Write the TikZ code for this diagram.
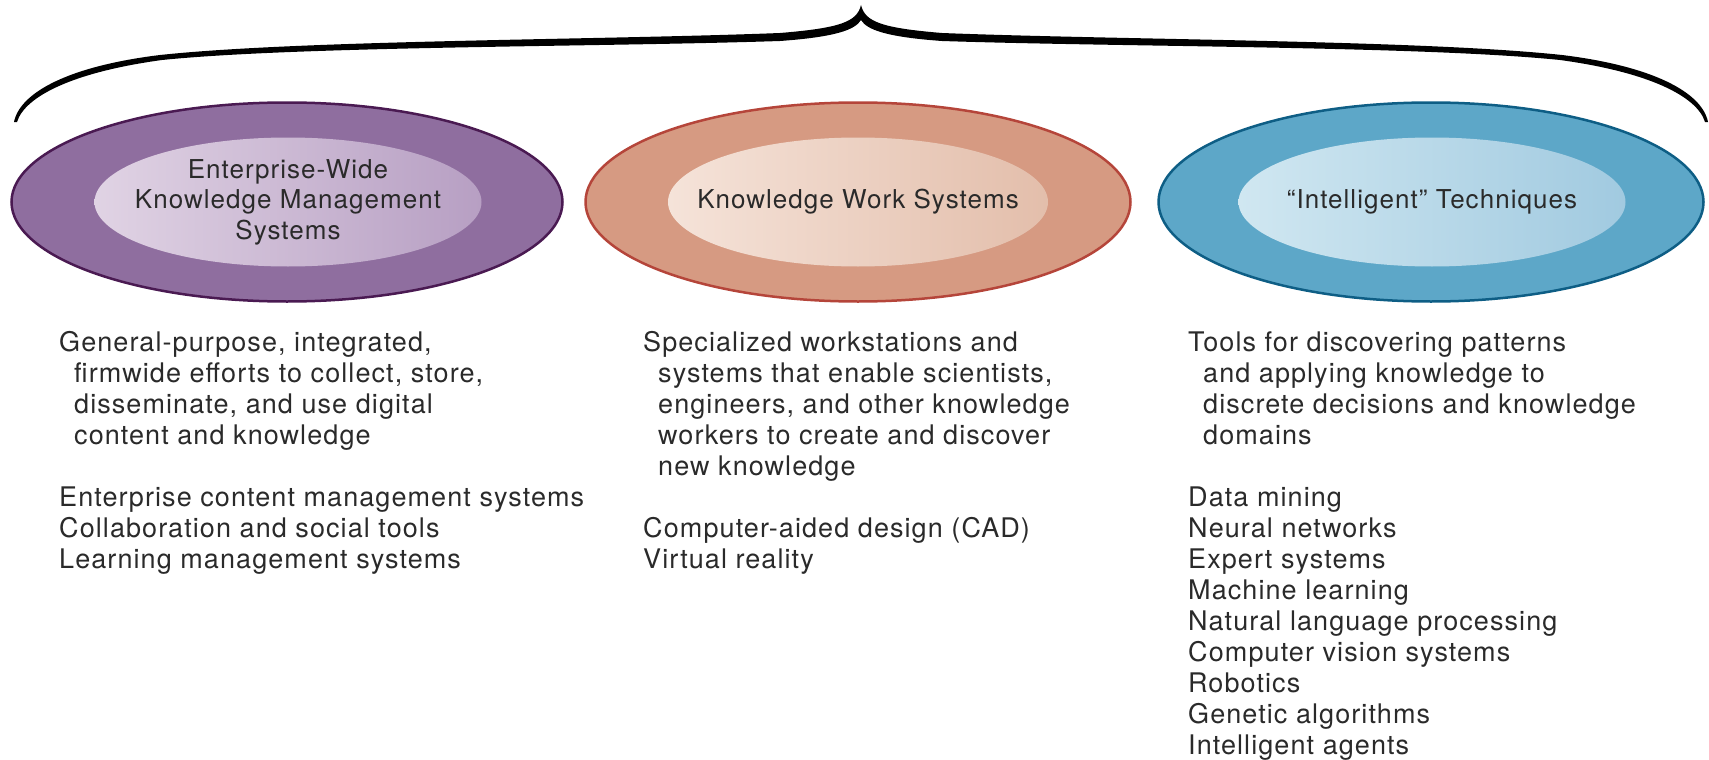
\documentclass[tikz,border=0pt]{standalone}
\usepackage{fontspec}
\setmainfont{TeX Gyre Heros}[LetterSpace=4]
\usetikzlibrary{shapes.geometric}
\definecolor{txt}{HTML}{2A2A2A}
\definecolor{purOut}{HTML}{8F6E9F}
\definecolor{purLine}{HTML}{4A1A52}
\definecolor{purInL}{HTML}{E0D3E4}
\definecolor{purInR}{HTML}{B79FC3}
\definecolor{salOut}{HTML}{D69A82}
\definecolor{salLine}{HTML}{B5453A}
\definecolor{salInL}{HTML}{F5E3D9}
\definecolor{salInR}{HTML}{E3BEAB}
\definecolor{bluOut}{HTML}{5DA7C8}
\definecolor{bluLine}{HTML}{0E5E85}
\definecolor{bluInL}{HTML}{D0E7F1}
\definecolor{bluInR}{HTML}{A1CAE0}
\tikzset{
  outerell/.style={ellipse, draw, line width=2.5pt, minimum width=548pt, minimum height=199pt, inner sep=0pt},
  innerell/.style={ellipse, minimum width=387pt, minimum height=129pt, inner sep=0pt},
  ellabel/.style={font=\fontsize{26}{30.5}\selectfont, text=txt, align=center, inner sep=0pt},
  desc/.style={anchor=north west, align=left, font=\fontsize{27}{31}\selectfont, text=txt, inner sep=0pt}
}
\newcommand{\firstline}{\rule{0pt}{21pt}}
\newcommand{\ind}{\hspace*{15pt}}
\begin{document}
\begin{tikzpicture}[x=1pt,y=-1pt]
\useasboundingbox (0,0) rectangle (1709,760);
% brace
\fill[black]
 (861,5) .. controls (857,22) and (840,28) .. (780,33)
 .. controls (600,40) and (300,40) .. (160,55)
 .. controls (70,66) and (20,92) .. (14,122)
 -- (17,122)
 .. controls (25,96) and (74,72) .. (162,60)
 .. controls (300,46) and (600,47) .. (780,41)
 .. controls (835,37) and (855,30) .. (861,20)
 .. controls (867,30) and (887,37) .. (942,41)
 .. controls (1122,47) and (1422,46) .. (1560,60)
 .. controls (1648,72) and (1697,96) .. (1705,122)
 -- (1708,122)
 .. controls (1702,92) and (1652,66) .. (1562,55)
 .. controls (1422,40) and (1122,40) .. (942,33)
 .. controls (882,28) and (865,22) .. (861,5) -- cycle;
% ellipses
\node[outerell, draw=purLine, fill=purOut, minimum width=551pt] (o1) at (287,202) {};
\node[innerell, left color=purInL, right color=purInR] (i1) at (288,202) {};
\node[ellabel] (t1) at (i1.center) {Enterprise-Wide\\Knowledge Management\\Systems};
\node[outerell, draw=salLine, fill=salOut, minimum width=545pt] (o2) at (858,202) {};
\node[innerell, left color=salInL, right color=salInR, minimum width=380pt] (i2) at (858,202) {};
\node[ellabel] (t2) at (i2.center) {Knowledge Work Systems};
\node[outerell, draw=bluLine, fill=bluOut, minimum width=545pt] (o3) at (1431,202) {};
\node[innerell, left color=bluInL, right color=bluInR] (i3) at (1432,202) {};
\node[ellabel] (t3) at (i3.center) {“Intelligent” Techniques};
% descriptions
\node[desc] (d1) at (59,330) {\firstline General-purpose, integrated,\\
\ind firmwide efforts to collect, store,\\
\ind disseminate, and use digital\\
\ind content and knowledge\\[31pt]
Enterprise content management systems\\
Collaboration and social tools\\
Learning management systems};
\node[desc] (d2) at (643,330) {\firstline Specialized workstations and\\
\ind systems that enable scientists,\\
\ind engineers, and other knowledge\\
\ind workers to create and discover\\
\ind new knowledge\\[31pt]
Computer-aided design (CAD)\\
Virtual reality};
\node[desc] (d3) at (1188,330) {\firstline Tools for discovering patterns\\
\ind and applying knowledge to\\
\ind discrete decisions and knowledge\\
\ind domains\\[31pt]
Data mining\\
Neural networks\\
Expert systems\\
Machine learning\\
Natural language processing\\
Computer vision systems\\
Robotics\\
Genetic algorithms\\
Intelligent agents};
\end{tikzpicture}
\end{document}
